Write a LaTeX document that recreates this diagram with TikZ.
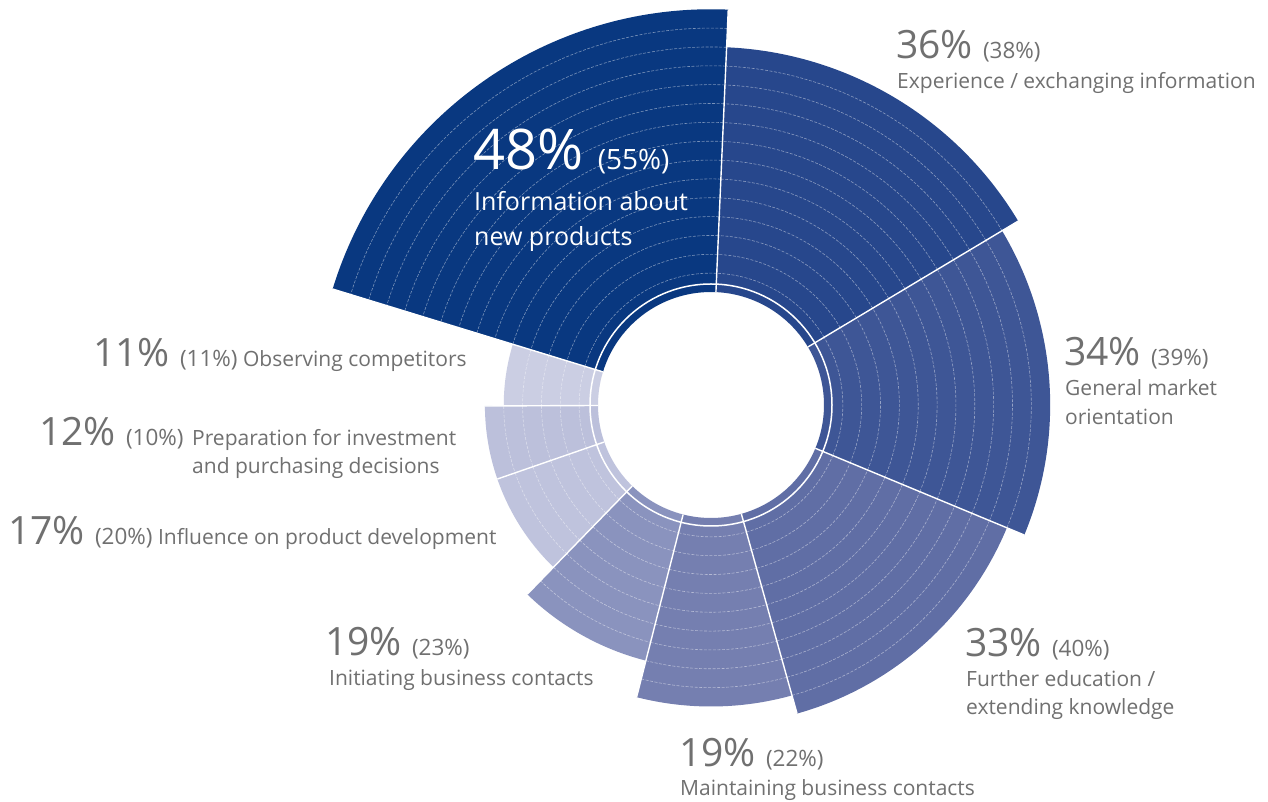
\documentclass[tikz,border=0pt]{standalone}
\usepackage{fontspec}
\setmainfont{Open Sans}
\definecolor{products}{RGB}{9,56,128}
\definecolor{exchange}{RGB}{39,71,140}
\definecolor{market}{RGB}{62,86,150}
\definecolor{education}{RGB}{96,110,165}
\definecolor{maintain}{RGB}{117,127,176}
\definecolor{initiate}{RGB}{138,147,190}
\definecolor{develop}{RGB}{191,195,221}
\definecolor{invest}{RGB}{188,192,219}
\definecolor{compete}{RGB}{203,206,227}
\definecolor{labelgray}{RGB}{112,112,112}
\newcommand\bignum{\fontsize{39}{39}\selectfont}
\newcommand\prevyr[1]{{\fontsize{22.5}{28.5}\selectfont(#1)}}
\begin{document}
\begin{tikzpicture}[x=1pt,y=1pt,
  ring/.style={white, opacity=0.45, line width=0.6pt, dash pattern=on 3pt off 1.5pt},
  edge/.style={white, line width=1.4pt},
  pct/.style={anchor=base west, inner sep=0pt, text=labelgray, align=left,
    font=\fontsize{21}{28.5}\selectfont}]
\useasboundingbox (-711,-397) rectangle (557,405);
\fill[white] (-711,-397) rectangle (557,405);

% sectors with their rings
\foreach \a/\b/\n/\c in {87.5/162.96/15/products, 162.96/180.25/5/compete,
  180.25/199.11/6/invest, 199.11/225.84/6/develop, 225.84/255.71/8/initiate,
  255.71/285.58/10/maintain, 285.58/337.46/11/education,
  337.46/390.91/12/market, 390.91/447.5/13/exchange}
{
  \pgfmathsetmacro\rout{113+18.85*\n}
  \fill[\c] (\a:113pt) arc[start angle=\a, end angle=\b, radius=113pt]
    -- (\b:\rout pt) arc[start angle=\b, end angle=\a, radius=\rout pt] -- cycle;
  \pgfmathtruncatemacro\m{\n-1}
  \foreach \k in {1,...,\m}{
    \pgfmathsetmacro\rk{113+18.85*\k}
    \draw[ring] (\a:\rk pt) arc[start angle=\a, end angle=\b, radius=\rk pt];
  }
}

% separators
\foreach \a/\r in {87.5/395.75, 162.96/395.75, 180.25/226.1, 199.11/226.1,
  225.84/263.8, 255.71/301.6, 285.58/320.35, 337.46/339.2, 390.91/358.05}
  \draw[edge] (\a:113pt) -- (\a:\r pt);
\draw[white, line width=1.5pt] (0,0) circle[radius=121pt];

% labels (multi-line nodes sit on their last baseline)
\node[pct, text=white, font=\fontsize{28}{35}\selectfont] (n48) at (-238,235)
  {{\fontsize{56}{56}\selectfont 48\% }(55\%)};
\node[pct, text=white, font=\fontsize{25}{35}\selectfont] (t48) at (-237,159.3)
  {Information about\\new products};
\node[pct] (n36) at (185,346.7) {{\bignum 36\% }\prevyr{38\%}};
\node[pct] (t36) at (186,316) {Experience / exchanging information};
\node[pct] (n34) at (353,39) {{\bignum 34\% }\prevyr{39\%}};
\node[pct] (t34) at (354,-19.5) {General market\\orientation};
\node[pct] (n33) at (254,-251.7) {{\bignum 33\% }\prevyr{40\%}};
\node[pct] (t33) at (255,-309.5) {Further education /\\extending knowledge};
\node[pct] (n19m) at (-32,-361.7) {{\bignum 19\% }\prevyr{22\%}};
\node[pct] (t19m) at (-31,-390) {Maintaining business contacts};
\node[pct] (n19i) at (-386,-250.7) {{\bignum 19\% }\prevyr{23\%}};
\node[pct] (t19i) at (-382,-280) {Initiating business contacts};
\node[pct] (n17) at (-703,-140) {{\bignum 17\% }\prevyr{20\%} Influence on product development};
\node[pct] (n12) at (-672,-40.7) {{\bignum 12\% }\prevyr{10\%}};
\node[pct] (t12) at (-519,-69) {Preparation for investment\\and purchasing decisions};
\node[pct] (n11) at (-618,38.3) {{\bignum 11\% }\prevyr{11\%} Observing competitors};
\end{tikzpicture}
\end{document}
